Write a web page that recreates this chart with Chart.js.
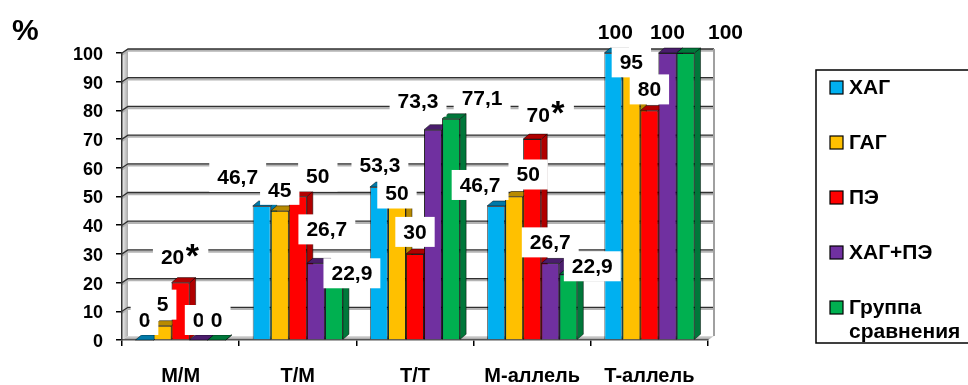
<!DOCTYPE html>
<html>
<head>
<meta charset="utf-8">
<script src="https://cdn.jsdelivr.net/npm/chart.js@4.4.1/dist/chart.umd.min.js"></script>
<style>
  html, body { margin: 0; padding: 0; background: #fff; }
  #wrap { width: 968px; height: 385px; }
</style>
</head>
<body>
<div id="wrap"><canvas id="chart" width="968" height="385"></canvas></div>
<script>
// ---- data ----
const categories = ['M/M', 'T/M', 'T/T', 'M-аллель', 'T-аллель'];
const seriesNames = ['ХАГ', 'ГАГ', 'ПЭ', 'ХАГ+ПЭ', 'Группа сравнения'];
const hagValues = [0, 46.7, 53.3, 46.7, 100];
const gagValues = [5, 45, 50, 50, 95];
const peValues = [20, 50, 30, 70, 80];
const hagPeValues = [0, 26.7, 73.3, 26.7, 100];
const controlValues = [0, 22.9, 77.1, 22.9, 100];
const peSignificance = ['*', '', '', '*', ''];
const yMin = 0;
const yMax = 100;
const yStep = 10;
const unitLabel = '%';

// ---- styling ----
const FONT = '"Liberation Sans", Arial, Helvetica, sans-serif';
const seriesColors = ['#00B0F0', '#FFC000', '#FF0000', '#7030A0', '#00B050'];
const seriesShades = ['#0079a8', '#b88a00', '#b00000', '#4a1d6c', '#00773a'];
const depthX = 6;   // oblique depth of the 3D walls and bars
const depthY = 5;

// Value labels sit above each bar; some are nudged aside so they do not collide.
// [dx, dy] in px, per series, per category.
const labelNudge = [
  [[0, 1], [-24, -8], [1, -1], [-16, 0], [2, 0]],
  [[0, 0], [0, 0], [0, 18], [14, -1], [0, 16]],
  [[-8, -4], [20, 1], [0, -1], [6, -3], [0, 0]],
  [[0, 1], [11, -13], [-15, -7], [0, 0], [0, 0]],
  [[0, 1], [18, 20], [31, 0], [24, 13], [40, 0]]
];

Chart.defaults.font.family = FONT;
Chart.defaults.font.weight = 'bold';
Chart.defaults.color = '#000';

const seriesValues = [hagValues, gagValues, peValues, hagPeValues, controlValues];
const seriesMarks = [null, null, peSignificance, null, null];

const datasets = seriesNames.map((name, i) => ({
  label: name,
  data: seriesValues[i],
  marks: seriesMarks[i],
  backgroundColor: seriesColors[i],
  shade: seriesShades[i],
  borderColor: 'rgba(0,0,0,0.6)',
  borderWidth: 1,
  categoryPercentage: 0.77,
  barPercentage: 1.0,
  clip: false
}));

function fmt(v) { return String(v).replace('.', ','); }

// back wall, left wall, floor and the gridlines on the back wall
const wallPlugin = {
  id: 'walls',
  beforeDraw(chart) {
    const { ctx, chartArea: a, scales: { y } } = chart;
    const dx = depthX, dy = 4;
    ctx.save();
    // floor
    const fg = ctx.createLinearGradient(0, a.bottom - dy, 0, a.bottom);
    fg.addColorStop(0, '#e0e0e0');
    fg.addColorStop(1, '#909090');
    ctx.fillStyle = fg;
    ctx.beginPath();
    ctx.moveTo(a.left, a.bottom);
    ctx.lineTo(a.left + dx, a.bottom - dy);
    ctx.lineTo(a.right + dx, a.bottom - dy);
    ctx.lineTo(a.right, a.bottom);
    ctx.closePath();
    ctx.fill();
    // left wall
    const lg = ctx.createLinearGradient(a.left, 0, a.left + dx, 0);
    lg.addColorStop(0, '#f0f0f0');
    lg.addColorStop(1, '#a8a8a8');
    ctx.fillStyle = lg;
    ctx.beginPath();
    ctx.moveTo(a.left, a.top);
    ctx.lineTo(a.left + dx, a.top - dy);
    ctx.lineTo(a.left + dx, a.bottom - dy);
    ctx.lineTo(a.left, a.bottom);
    ctx.closePath();
    ctx.fill();
    // gridlines
    y.ticks.forEach(t => {
      if (t.value <= yMin) return;
      const py = y.getPixelForValue(t.value);
      ctx.strokeStyle = '#b4b4b4';
      ctx.lineWidth = 2.5;
      ctx.beginPath();
      ctx.moveTo(a.left, py + 1.5);
      ctx.lineTo(a.left + dx, py - dy + 1.5);
      ctx.lineTo(a.right + dx, py - dy + 1.5);
      ctx.stroke();
      ctx.strokeStyle = '#303030';
      ctx.lineWidth = 1.3;
      ctx.beginPath();
      ctx.moveTo(a.left, py);
      ctx.lineTo(a.left + dx, py - dy);
      ctx.lineTo(a.right + dx, py - dy);
      ctx.stroke();
    });
    // right edge of the back wall
    ctx.strokeStyle = '#a0a0a0';
    ctx.lineWidth = 2;
    ctx.beginPath();
    ctx.moveTo(a.right + dx, y.getPixelForValue(yMax) - dy);
    ctx.lineTo(a.right + dx, a.bottom - dy);
    ctx.stroke();
    ctx.restore();
  }
};

// side and top faces of each column, drawn left to right so neighbours overlap correctly
const bar3dPlugin = {
  id: 'bars3d',
  afterDatasetsDraw(chart) {
    const ctx = chart.ctx;
    const metas = chart.data.datasets.map((_, i) => chart.getDatasetMeta(i));
    ctx.save();
    for (let ci = 0; ci < categories.length; ci++) {
      metas.forEach((meta, si) => {
        const bar = meta.data[ci];
        if (!bar) return;
        if (si > 0) bar.draw(ctx);
        const { x, y, base, width } = bar.getProps(['x', 'y', 'base', 'width'], true);
        const l = x - width / 2, r = x + width / 2;
        const top = Math.min(y, base);
        const shade = chart.data.datasets[si].shade;
        ctx.fillStyle = shade;
        ctx.strokeStyle = 'rgba(0,0,0,0.6)';
        ctx.lineWidth = 0.8;
        ctx.beginPath();
        ctx.moveTo(r, top);
        ctx.lineTo(r + depthX, top - depthY);
        ctx.lineTo(r + depthX, base - depthY);
        ctx.lineTo(r, base);
        ctx.closePath();
        ctx.fill();
        ctx.stroke();
        ctx.beginPath();
        ctx.moveTo(l, top);
        ctx.lineTo(l + depthX, top - depthY);
        ctx.lineTo(r + depthX, top - depthY);
        ctx.lineTo(r, top);
        ctx.closePath();
        ctx.fill();
        ctx.stroke();
      });
    }
    ctx.restore();
  }
};

// value labels on white boxes, the unit sign and the legend
const annotationPlugin = {
  id: 'annotations',
  afterDraw(chart) {
    const ctx = chart.ctx;
    ctx.save();
    ctx.textAlign = 'center';
    ctx.textBaseline = 'middle';
    chart.data.datasets.forEach((ds, si) => {
      const meta = chart.getDatasetMeta(si);
      meta.data.forEach((bar, ci) => {
        const { x, y } = bar.getProps(['x', 'y'], true);
        const [nx, ny] = labelNudge[si][ci];
        const cx = x + nx, cy = y - 21 + ny;
        const txt = fmt(ds.data[ci]);
        const mark = ds.marks ? ds.marks[ci] : '';
        ctx.font = 'bold 21px ' + FONT;
        const tw = ctx.measureText(txt).width;
        const extra = mark ? 16 : 0;
        ctx.fillStyle = '#fff';
        ctx.fillRect(cx - tw / 2 - 8, cy - 15, tw + 16 + extra, 30);
        ctx.fillStyle = '#000';
        ctx.fillText(txt, cx, cy + 1);
        if (mark) {
          ctx.font = 'bold 34px ' + FONT;
          ctx.textBaseline = 'alphabetic';
          ctx.fillText(mark, cx + tw / 2 + 8, cy + 9);
          ctx.textBaseline = 'middle';
        }
      });
    });

    // unit sign
    ctx.font = 'bold 30px ' + FONT;
    ctx.textAlign = 'left';
    ctx.textBaseline = 'alphabetic';
    ctx.fillText(unitLabel, 12, 40);

    // legend
    const boxL = 816, boxT = 70, boxB = 343;
    ctx.strokeStyle = '#000';
    ctx.lineWidth = 1.5;
    ctx.strokeRect(boxL, boxT, 200, boxB - boxT);
    ctx.font = 'bold 21px ' + FONT;
    ctx.textBaseline = 'middle';
    const maxW = chart.width - 849;
    chart.data.datasets.forEach((ds, i) => {
      const cy = 87 + i * 55;
      ctx.fillStyle = ds.backgroundColor;
      ctx.fillRect(830, cy - 6, 13, 13);
      ctx.strokeStyle = '#000';
      ctx.lineWidth = 1.2;
      ctx.strokeRect(830, cy - 6, 13, 13);
      // word-wrap long names
      const words = ds.label.split(' ');
      const lines = [];
      let cur = '';
      words.forEach(w => {
        const t = cur ? cur + ' ' + w : w;
        if (cur && ctx.measureText(t).width > maxW) { lines.push(cur); cur = w; }
        else cur = t;
      });
      lines.push(cur);
      ctx.fillStyle = '#000';
      lines.forEach((ln, k) => ctx.fillText(ln, 849, cy + 1 + k * 24));
    });
    ctx.restore();
  }
};

new Chart(document.getElementById('chart'), {
  type: 'bar',
  data: { labels: categories, datasets },
  options: {
    responsive: false,
    devicePixelRatio: 1,
    animation: false,
    events: [],
    layout: { padding: { left: 0, right: 260, top: 53, bottom: 0 } },
    plugins: { legend: { display: false }, tooltip: { enabled: false } },
    scales: {
      x: {
        grid: { drawOnChartArea: false, drawTicks: true, tickLength: 6, color: '#000', lineWidth: 1.5 },
        border: { display: true, color: '#555', width: 1.5 },
        ticks: { color: '#000', font: { size: 20, weight: 'bold' }, padding: 18, maxRotation: 0, autoSkip: false },
        afterFit(scale) { scale.height = 45; }
      },
      y: {
        min: yMin,
        max: yMax,
        grid: { drawOnChartArea: false, drawTicks: true, tickLength: 6, color: '#000', lineWidth: 1.5 },
        border: { display: true, color: '#333', width: 1.5 },
        ticks: { stepSize: yStep, color: '#000', font: { size: 18, weight: 'bold' }, padding: 13, labelOffset: 2 },
        afterFit(scale) { scale.width = 122; }
      }
    }
  },
  plugins: [wallPlugin, bar3dPlugin, annotationPlugin]
});
</script>
</body>
</html>
